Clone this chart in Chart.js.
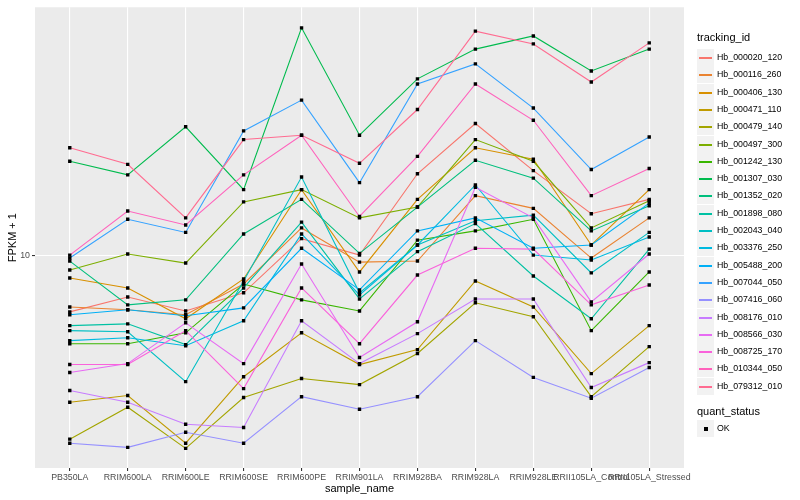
<!DOCTYPE html>
<html>
<head>
<meta charset="utf-8">
<script src="https://cdn.jsdelivr.net/npm/chart.js@4.4.1/dist/chart.umd.min.js"></script>
<style>
  body { margin: 0; background: #fff; font-family: "Liberation Sans", Arial, sans-serif; }
  #wrap { position: relative; width: 800px; height: 500px; }
  #chart { position: absolute; left: 0; top: 0; }
  .lg { position: absolute; white-space: nowrap; color: #000; }
  .lg-title { font-size: 11px; }
  .lg-text { font-size: 8.8px; }
  .lg-key { position: absolute; width: 17px; height: 17px; background: #F2F2F2; }
</style>
</head>
<body>
<div id="wrap">
  <canvas id="chart" width="800" height="500"></canvas>
  <div id="legend"></div>
</div>
<script>
// ---------- данные ----------
const samples = ['PB350LA', 'RRIM600LA', 'RRIM600LE', 'RRIM600SE', 'RRIM600PE', 'RRIM901LA',
  'RRIM928BA', 'RRIM928LA', 'RRIM928LE', 'RRII105LA_Control', 'RRII105LA_Stressed'];

const trackingIds = ['Hb_000020_120', 'Hb_000116_260', 'Hb_000406_130', 'Hb_000471_110', 'Hb_000479_140',
  'Hb_000497_300', 'Hb_001242_130', 'Hb_001307_030', 'Hb_001352_020', 'Hb_001898_080',
  'Hb_002043_040', 'Hb_003376_250', 'Hb_005488_200', 'Hb_007044_050', 'Hb_007416_060',
  'Hb_008176_010', 'Hb_008566_030', 'Hb_008725_170', 'Hb_010344_050', 'Hb_079312_010'];

const colours = ['#F8766D', '#EA8331', '#D89000', '#C09B00', '#A3A500', '#7CAE00', '#39B600', '#00BB4E',
  '#00BF7D', '#00C1A3', '#00BFC4', '#00BAE0', '#00B0F6', '#35A2FF', '#9590FF', '#C77CFF',
  '#E76BF3', '#FA62DB', '#FF62BC', '#FF6C91'];

// FPKM + 1 по образцам
const hb000020_120 = [7.20, 7.85, 7.24, 8.04, 11.0, 10.0, 16.0, 21.4, 16.3, 12.7, 13.8];
const hb000116_260 = [7.41, 7.29, 7.08, 8.46, 11.7, 9.60, 9.66, 14.1, 13.1, 9.83, 12.4];
const hb000406_130 = [8.76, 8.27, 6.92, 8.71, 14.6, 9.07, 13.8, 18.6, 17.4, 10.6, 14.6];
const hb000471_110 = [4.27, 4.44, 3.37, 4.95, 6.38, 5.31, 5.79, 8.61, 7.41, 5.04, 6.65];
const hb000479_140 = [3.45, 4.15, 3.27, 4.39, 4.90, 4.73, 5.66, 7.59, 7.00, 4.41, 5.89];
const hb000497_300 = [9.17, 10.06, 9.55, 13.6, 14.6, 12.4, 13.2, 19.5, 17.2, 11.7, 13.7];
const hb001242_130 = [5.99, 5.99, 6.38, 8.46, 7.72, 7.24, 10.9, 11.5, 12.3, 6.46, 9.07];
const hb001307_030 = [17.2, 15.9, 21.0, 14.6, 37.2, 20.0, 27.7, 32.9, 35.5, 29.0, 32.9];
const hb001352_020 = [9.66, 7.50, 7.72, 11.3, 13.8, 10.1, 13.2, 17.3, 15.6, 11.5, 13.3];
const hb001898_080 = [6.65, 6.72, 5.96, 8.27, 12.1, 7.76, 10.2, 12.0, 8.86, 6.92, 10.35];
const hb002043_040 = [6.46, 6.42, 4.81, 8.61, 15.7, 8.04, 10.6, 12.2, 12.6, 9.02, 11.4];
const hb003376_250 = [6.10, 6.20, 5.92, 6.84, 11.3, 7.94, 10.6, 15.0, 10.0, 9.72, 11.1];
const hb005488_200 = [7.08, 7.29, 7.04, 7.37, 10.4, 8.18, 11.5, 12.4, 10.4, 10.6, 13.5];
const hb007044_050 = [9.83, 12.3, 11.4, 20.5, 24.5, 15.2, 26.9, 30.2, 23.4, 16.4, 19.8];
const hb007416_060 = [3.37, 3.29, 3.59, 3.37, 4.41, 4.10, 4.41, 6.10, 4.93, 4.37, 5.22];
const hb008176_010 = [4.57, 4.27, 3.76, 3.69, 6.84, 5.34, 6.35, 7.76, 7.76, 4.65, 5.37];
const hb008566_030 = [5.07, 5.34, 6.76, 5.34, 9.50, 5.53, 6.80, 14.8, 12.4, 7.63, 10.06];
const hb008725_170 = [5.31, 5.31, 6.46, 4.62, 8.27, 5.99, 8.91, 10.4, 10.35, 7.50, 8.41];
const hb010344_050 = [10.0, 12.9, 11.9, 15.9, 20.0, 12.5, 17.7, 26.9, 21.8, 14.1, 16.5];
const hb079312_010 = [18.6, 16.9, 12.4, 19.5, 20.0, 17.0, 23.2, 36.5, 33.9, 27.2, 34.1];

const seriesValues = [hb000020_120, hb000116_260, hb000406_130, hb000471_110, hb000479_140,
  hb000497_300, hb001242_130, hb001307_030, hb001352_020, hb001898_080, hb002043_040,
  hb003376_250, hb005488_200, hb007044_050, hb007416_060, hb008176_010, hb008566_030,
  hb008725_170, hb010344_050, hb079312_010];

const yTicks = [10];
const yMin = 2.92, yMax = 41.9;

// ---------- датасеты: сначала линии, сверху точки ----------
const lineSets = seriesValues.map((vals, i) => ({
  label: trackingIds[i],
  data: vals.map((v, j) => ({ x: j, y: v })),
  borderColor: colours[i],
  borderWidth: 1.1,
  pointRadius: 0,
  fill: false,
  tension: 0,
  order: 100 - i
}));
const pointSets = seriesValues.map((vals, i) => ({
  label: trackingIds[i] + ' OK',
  data: vals.map((v, j) => ({ x: j, y: v })),
  showLine: false,
  pointStyle: 'rect',
  pointRadius: 2.4,
  pointBorderWidth: 0,
  pointBackgroundColor: '#000',
  order: 0
}));

// серый фон панели как в ggplot
const panelBg = {
  id: 'panelBg',
  beforeDraw(chart) {
    const { ctx, chartArea: a } = chart;
    ctx.save();
    ctx.fillStyle = '#EBEBEB';
    ctx.fillRect(a.left, a.top, a.right - a.left, a.bottom - a.top);
    ctx.restore();
  }
};

const FONT = '"Liberation Sans", Arial, sans-serif';

new Chart(document.getElementById('chart'), {
  type: 'line',
  data: { datasets: [...lineSets, ...pointSets] },
  options: {
    responsive: false,
    animation: false,
    layout: { padding: { top: 5, right: 116, left: 0, bottom: 0 } },
    plugins: { legend: { display: false }, tooltip: { enabled: false } },
    scales: {
      x: {
        type: 'linear',
        min: -0.6,
        max: samples.length - 1 + 0.6,
        afterBuildTicks: s => { s.ticks = samples.map((_, i) => ({ value: i })); },
        afterFit: s => { s.height = 32; },
        ticks: {
          autoSkip: false, maxRotation: 0, minRotation: 0, padding: 1,
          color: '#4D4D4D', font: { family: FONT, size: 8.8 },
          callback: v => samples[Math.round(v)]
        },
        grid: { color: '#FFFFFF', lineWidth: 1.1, tickColor: '#333333', tickLength: 3 },
        border: { display: false },
        title: { display: true, text: 'sample_name', color: '#000', font: { family: FONT, size: 11 }, padding: { top: 0, bottom: 4 } }
      },
      y: {
        type: 'logarithmic',
        min: yMin,
        max: yMax,
        afterBuildTicks: s => { s.ticks = yTicks.map(v => ({ value: v })); },
        afterFit: s => { s.width = 35; },
        ticks: { color: '#4D4D4D', font: { family: FONT, size: 8.8 }, padding: 2, callback: v => String(v) },
        grid: { color: '#FFFFFF', lineWidth: 1.1, tickColor: '#333333', tickLength: 3 },
        border: { display: false },
        title: { display: true, text: 'FPKM + 1', color: '#000', font: { family: FONT, size: 11 }, padding: { top: 6, bottom: 0 } }
      }
    }
  },
  plugins: [panelBg]
});

// ---------- легенда справа ----------
function addDiv(cls, text, left, top) {
  const d = document.createElement('div');
  d.className = cls;
  if (text) d.textContent = text;
  d.style.left = left + 'px';
  d.style.top = top + 'px';
  document.getElementById('legend').appendChild(d);
  return d;
}

const keyX = 697, keyStep = 17.3, firstKeyTop = 49;
addDiv('lg lg-title', 'tracking_id', keyX, 31);
trackingIds.forEach((id, i) => {
  const top = Math.round(firstKeyTop + i * keyStep);
  const key = addDiv('lg-key', '', keyX, top);
  const ln = document.createElement('div');
  ln.style.cssText = `position:absolute;left:2px;top:8px;width:13px;height:1px;border-top:0.5px solid ${colours[i]};background:${colours[i]}`;
  key.appendChild(ln);
  addDiv('lg lg-text', id, 717, top + 3);
});

addDiv('lg lg-title', 'quant_status', keyX, 405);
const okKey = addDiv('lg-key', '', keyX, 420);
const sq = document.createElement('div');
sq.style.cssText = 'position:absolute;left:6.5px;top:6.5px;width:4px;height:4px;background:#000';
okKey.appendChild(sq);
addDiv('lg lg-text', 'OK', 717, 423);
</script>
</body>
</html>
